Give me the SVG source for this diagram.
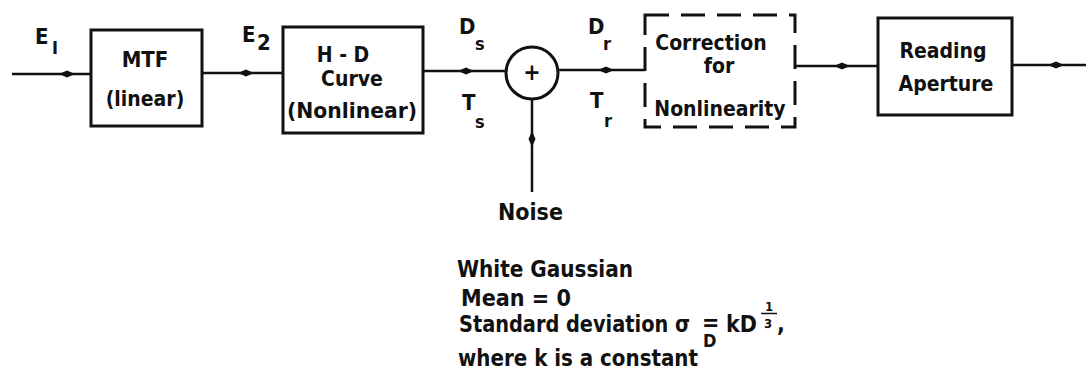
<svg xmlns="http://www.w3.org/2000/svg" width="1090" height="371" viewBox="0 0 1090 371">
<style>
text{font-family:"Liberation Sans Narrow","DejaVu Sans Condensed","Liberation Sans",sans-serif;font-weight:bold;fill:#111}
.box{fill:none;stroke:#111;stroke-width:3}
.dash{fill:none;stroke:#111;stroke-width:3;stroke-dasharray:24 12}
.ln{fill:none;stroke:#111;stroke-width:2.5}
.c{text-anchor:middle}
.bx{font-size:21px}
.lb{font-size:22px}
.sb{font-size:18px}
.nt{font-size:23px}
.fr{font-size:13px;text-anchor:middle}
</style>
<defs>
<path id="ah" d="M-9,0 L-1,-3.5 L7,0 L-1,3.5 Z" fill="#111"/>
</defs>
<g id="connectors">
<path class="ln" d="M12,74 H92"/><use href="#ah" x="68" y="74"/>
<path class="ln" d="M202,73 H283"/><use href="#ah" x="247" y="73"/>
<path class="ln" d="M423,71 H506"/><use href="#ah" x="467" y="71"/>
<path class="ln" d="M558,70 H645"/><use href="#ah" x="607" y="70"/>
<path class="ln" d="M795,66 H878"/><use href="#ah" x="843" y="66"/>
<path class="ln" d="M1012,65 H1086"/><use href="#ah" x="1057" y="65"/>
<path class="ln" d="M532,192 V99"/><use href="#ah" transform="translate(532,138) rotate(-90)"/>
</g>
<g id="labels">
<text class="lb" x="35" y="44">E</text><text class="sb" x="52" y="54">I</text>
<text class="lb" x="242" y="42">E</text><text class="lb" x="257" y="50">2</text>
<text class="lb" x="459" y="34">D</text><text class="sb" x="475" y="50">s</text>
<text class="lb" x="462" y="110">T</text><text class="sb" x="475" y="128">s</text>
<text class="lb" x="588" y="34">D</text><text class="sb" x="603" y="50">r</text>
<text class="lb" x="590" y="108">T</text><text class="sb" x="604" y="127">r</text>
</g>
<g id="mtf">
<rect class="box" x="91" y="30" width="111" height="96"/>
<text class="bx c" x="145" y="67" style="font-size:22px">MTF</text>
<text class="bx c" x="145" y="106">(linear)</text>
</g>
<g id="hd">
<rect class="box" x="283" y="27" width="140" height="106"/>
<text class="bx c" x="343" y="62">H - D</text>
<text class="bx c" x="352" y="86">Curve</text>
<text class="bx c" x="352" y="118" textLength="130" lengthAdjust="spacingAndGlyphs">(Nonlinear)</text>
</g>
<g id="sum">
<circle cx="532" cy="73" r="26" fill="none" stroke="#111" stroke-width="3"/>
<text class="bx c" x="532" y="80" style="font-size:23px">+</text>
</g>
<g id="correction">
<rect class="dash" x="645" y="15" width="150" height="112"/>
<text class="bx c" x="711" y="50">Correction</text>
<text class="bx c" x="719" y="73">for</text>
<text class="bx c" x="720" y="116">Nonlinearity</text>
</g>
<g id="reading">
<rect class="box" x="878" y="18" width="134" height="97"/>
<text class="bx c" x="943" y="58">Reading</text>
<text class="bx c" x="946" y="91">Aperture</text>
</g>
<g id="noise">
<text class="nt" x="498" y="220">Noise</text>
</g>
<g id="notes">
<text class="nt" x="457" y="277" textLength="176" lengthAdjust="spacingAndGlyphs">White Gaussian</text>
<text class="nt" x="461" y="306" textLength="110" lengthAdjust="spacingAndGlyphs">Mean = 0</text>
<text class="nt" x="459" y="332" textLength="231" lengthAdjust="spacingAndGlyphs">Standard deviation σ</text>
<text class="sb" x="703" y="347">D</text>
<text class="nt" x="702" y="330">=</text>
<text class="nt" x="726" y="332">kD</text>
<text class="fr" x="769" y="311">1</text>
<path d="M761,313.5 H777" stroke="#111" stroke-width="1.5"/>
<text class="fr" x="768" y="328">3</text>
<text class="nt" x="777" y="332">,</text>
<text class="nt" x="458" y="366" textLength="240" lengthAdjust="spacingAndGlyphs">where k is a constant</text>
</g>
</svg>
